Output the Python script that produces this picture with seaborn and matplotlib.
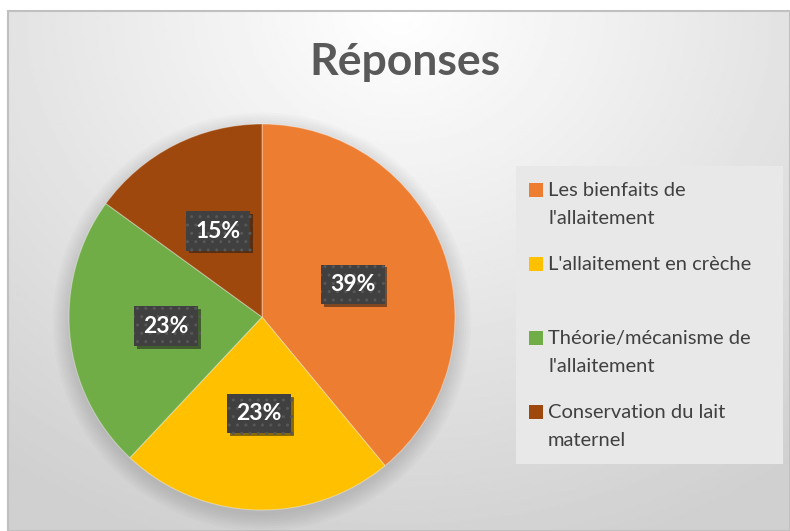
import numpy as np
import matplotlib.pyplot as plt
import matplotlib.patheffects as pe
from matplotlib.patches import Rectangle
import seaborn as sns

# Data (percentages as shown on the chart)
categories = ["Les bienfaits de\nl'allaitement",
              "L'allaitement en crèche",
              "Théorie/mécanisme de\nl'allaitement",
              "Conservation du lait\nmaternel"]
shares = [39, 23, 23, 15]
colors = ["#ED7D31", "#FFC000", "#70AD47", "#9E480E"]

sns.set_theme(style="white")
plt.rcParams['font.family'] = ['Lato', 'DejaVu Sans']

W, H = 790, 531
fig = plt.figure(figsize=(W / 100, H / 100), dpi=100)
fig.patch.set_facecolor("white")

# background panel with radial gradient
bg = fig.add_axes([8 / W, 0, 1 - 8 / W, (H - 11) / H])
yy, xx = np.mgrid[0:1:300j, 0:1:400j]
dist = np.sqrt(((xx - 0.5) * 1.3) ** 2 + (yy * 1.0) ** 2)
grad = 1.0 - 0.17 * np.clip(dist, 0, 1.1)
bg.imshow(grad, cmap="gray", vmin=0, vmax=1, aspect="auto",
          extent=[0, 1, 0, 1], origin="upper")
bg.set_xticks([])
bg.set_yticks([])
for s in bg.spines.values():
    s.set_color("#c0c0c0")
    s.set_linewidth(1.5)

# pie axes
cx, cy, r = 262, 317, 193
ax = fig.add_axes([(cx - r) / W, (H - cy - r) / H, 2 * r / W, 2 * r / H])
ax.set_facecolor("none")

# soft shadow behind the pie
for k in range(8):
    ax.add_patch(plt.Circle((0.0, -0.025), 1.0 + 0.012 * k, color="black",
                            alpha=0.015, lw=0, zorder=0, clip_on=False))

wedges, texts, autotexts = ax.pie(
    shares, colors=colors, startangle=90, counterclock=False,
    autopct=lambda p: f"{p:.0f}%", pctdistance=0.5,
    wedgeprops=dict(edgecolor=(1, 1, 1, 0.35), linewidth=0.8),
    textprops=dict(color="white", fontsize=16.5, fontweight="bold"))
for t in autotexts:
    t.set_bbox(dict(facecolor="#404040", edgecolor="#575757", hatch="..",
                    linewidth=0, boxstyle="square,pad=0.4"))
    t.get_bbox_patch().set_path_effects(
        [pe.SimplePatchShadow(offset=(2, -2), alpha=0.5), pe.Normal()])
ax.set_xlim(-1, 1)
ax.set_ylim(-1, 1)
ax.set_aspect("equal")

# title
fig.text(405 / W, 1 - 62 / H, "Réponses", ha="center", va="center",
         fontsize=32, fontweight="bold", color="#595959")

# legend drawn by hand to mimic the spreadsheet layout
fig.patches.append(Rectangle((516 / W, 1 - 464 / H), 267 / W, 298 / H,
                             transform=fig.transFigure, facecolor="#e8e8e8",
                             edgecolor="none", zorder=1))
entry_y = [190, 264, 338, 412]
for lab, col, y in zip(categories, colors, entry_y):
    fig.patches.append(Rectangle((529 / W, 1 - (y + 7) / H), 14 / W, 14 / H,
                                 transform=fig.transFigure, facecolor=col,
                                 edgecolor="none", zorder=2))
    fig.text(548 / W, 1 - (y - 8) / H, lab, ha="left", va="top",
             fontsize=14.5, color="#404040", linespacing=1.75, zorder=3)

fig.savefig("out.png", dpi=100)
